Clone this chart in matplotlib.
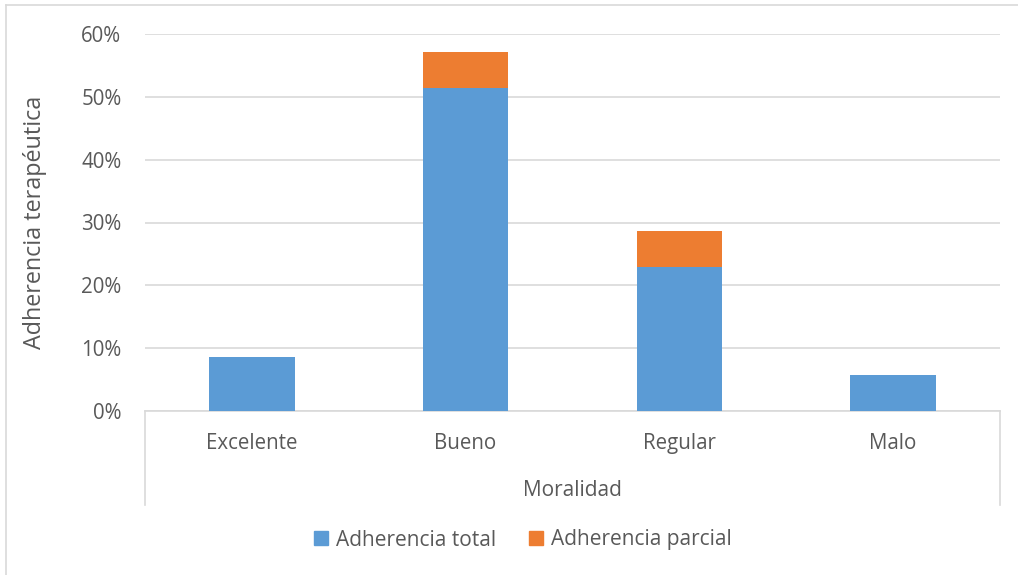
import matplotlib.pyplot as plt
from matplotlib.lines import Line2D
from matplotlib.patches import Patch
from matplotlib.ticker import FuncFormatter

categories = ["Excelente", "Bueno", "Regular", "Malo"]
adherencia_total = [8.57, 51.43, 22.86, 5.71]
adherencia_parcial = [0.0, 5.71, 5.71, 0.0]
yticks = [0, 10, 20, 30, 40, 50, 60]

blue = "#5B9BD5"
orange = "#ED7D31"
grid_color = "#D9D9D9"
text_color = "#595959"

plt.rcParams["font.family"] = ["Open Sans", "DejaVu Sans"]

W, H = 1018, 575
fig = plt.figure(figsize=(W / 100, H / 100), dpi=100)
ax = fig.add_axes([145 / W, 1 - 411 / H, 855 / W, 377 / H])

x = list(range(len(categories)))
ax.bar(x, adherencia_total, width=0.4, color=blue, zorder=3)
ax.bar(x, adherencia_parcial, width=0.4, bottom=adherencia_total, color=orange, zorder=3)

ax.set_xlim(-0.5, len(categories) - 0.5)
ax.set_ylim(0, 60)
ax.set_yticks(yticks)
ax.yaxis.set_major_formatter(FuncFormatter(lambda v, p: f"{v:.0f}%"))
ax.set_xticks(x)
ax.set_xticklabels(categories)
ax.tick_params(axis="both", length=0, colors=text_color, labelsize=14.8)
ax.tick_params(axis="x", pad=16)
ax.tick_params(axis="y", pad=17)
ax.grid(axis="y", color=grid_color, linewidth=1.2, zorder=0)

for s in ["top", "right", "left"]:
    ax.spines[s].set_visible(False)
ax.spines["bottom"].set_color(grid_color)
ax.spines["bottom"].set_linewidth(1.2)

# frame lines around the category axis area
depth = (505 - 411) / 377
for xe in (0, 1):
    ax.add_line(Line2D([xe, xe], [0, -depth], transform=ax.transAxes,
                       color=grid_color, linewidth=1.2, clip_on=False))

fig.text(35 / W, 1 - 222 / H, "Adherencia terapéutica", rotation=90,
         ha="center", va="center", fontsize=16.8, color=text_color)
fig.text(572 / W, 1 - 490 / H, "Moralidad", ha="center", va="center",
         fontsize=15, color=text_color)

handles = [Patch(color=blue), Patch(color=orange)]
fig.legend(handles, ["Adherencia total", "Adherencia parcial"], loc="center",
           bbox_to_anchor=(523 / W, 1 - 540 / H), ncol=2, frameon=False,
           fontsize=15, labelcolor=text_color, handlelength=0.65, handleheight=0.65,
           handletextpad=0.4, columnspacing=1.6)

# outer chart border
fig.add_artist(Line2D([6 / W, 6 / W], [0, 1 - 5 / H], transform=fig.transFigure,
                      color=grid_color, linewidth=1.2))
fig.add_artist(Line2D([6 / W, 1], [1 - 5 / H, 1 - 5 / H], transform=fig.transFigure,
                      color=grid_color, linewidth=1.2))

fig.savefig("out.png", dpi=100)
